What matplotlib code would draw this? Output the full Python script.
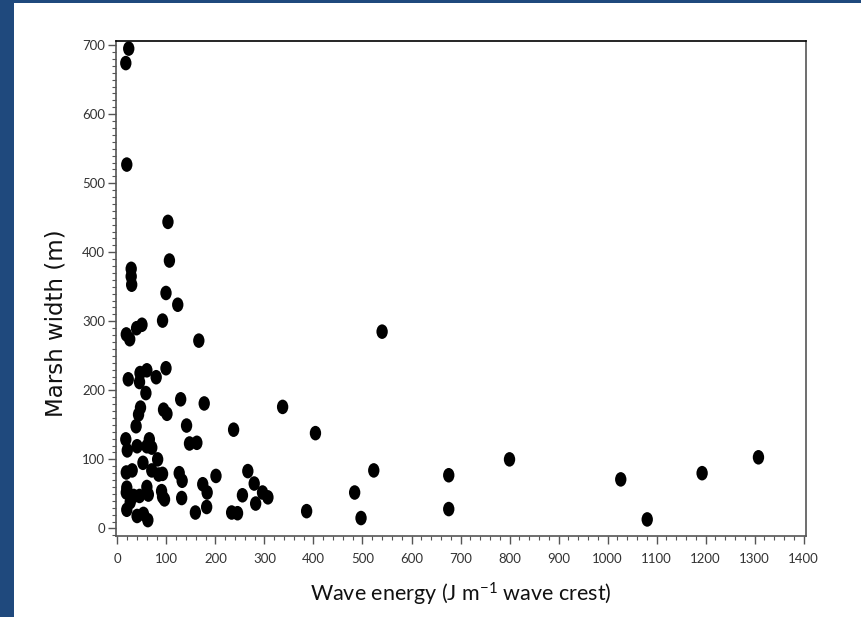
import numpy as np
import matplotlib
matplotlib.use("Agg")
import matplotlib.pyplot as plt
from matplotlib.path import Path
from matplotlib.patches import Rectangle
from matplotlib.ticker import MultipleLocator

# wave energy (J m-1 wave crest) and marsh width (m)
wave_energy = [
    23, 17, 19, 103, 106, 28, 28, 29, 99, 123, 92, 18, 25, 39, 50, 166, 540,
    22, 46, 45, 60, 58, 79, 99, 129, 177, 94, 101, 47, 43, 38, 141, 147, 162,
    237, 337, 404,
    17, 20, 40, 60, 65, 70, 82, 52, 18, 30, 70, 84, 92, 126, 132, 201, 266,
    279, 174, 183, 296, 307, 255, 282, 182, 131, 159, 233, 245, 386, 484, 497,
    523,
    19, 18, 26, 33, 45, 60, 63, 19, 40, 53, 62, 90, 92, 96,
    676, 676, 800, 1027, 1081, 1193, 1308,
]
marsh_width = [
    695, 674, 527, 444, 388, 376, 365, 353, 341, 324, 301, 281, 274, 290, 295, 272, 285,
    216, 225, 212, 229, 196, 219, 232, 187, 181, 172, 166, 175, 165, 148, 149, 123, 124,
    143, 176, 138,
    129, 113, 119, 119, 129, 117, 100, 95, 81, 84, 84, 78, 79, 80, 69, 76, 83,
    65, 64, 52, 52, 45, 48, 36, 31, 44, 23, 23, 22, 25, 52, 15,
    84,
    59, 52, 38, 47, 47, 60, 49, 27, 18, 21, 12, 54, 46, 42,
    77, 28, 100, 71, 13, 80, 103,
]

x_ticks = list(range(0, 1401, 100))
y_ticks = list(range(0, 701, 100))

plt.rcParams["mathtext.fontset"] = "custom"
plt.rcParams["mathtext.rm"] = "Lato"
plt.rcParams["mathtext.it"] = "Lato:italic"

fig = plt.figure(figsize=(8.62, 6.17), dpi=100)
fig.patch.set_facecolor("#1F497D")
# white slide area, blue strip on the left and top
fig.add_artist(Rectangle((14 / 862, 0), 1, 1 - 3 / 617, transform=fig.transFigure,
                         facecolor="white", edgecolor="none", zorder=-1))

ax = fig.add_axes([116 / 862, 1 - 536 / 617, 690 / 862, 495 / 617])

# slightly tall ellipse marker
circ = Path.unit_circle()
ellipse = Path(circ.vertices * np.array([0.78, 1.0]), circ.codes)

ax.scatter(wave_energy, marsh_width, marker=ellipse, s=110, color="black",
           edgecolors="none", zorder=3)

ax.set_xlim(-3, 1405)
ax.set_ylim(-11, 706)
ax.set_xticks(x_ticks)
ax.set_yticks(y_ticks)
ax.xaxis.set_minor_locator(MultipleLocator(20))
ax.yaxis.set_minor_locator(MultipleLocator(10))

tick_font = {"family": "Lato", "size": 9.5}
ax.set_xticklabels([str(v) for v in x_ticks], fontdict=tick_font, color="#333333")
ax.set_yticklabels([str(v) for v in y_ticks], fontdict=tick_font, color="#333333")
ax.tick_params(which="major", length=6, width=1, color="#555555")
ax.tick_params(which="minor", length=3, width=0.8, color="#555555")
ax.tick_params(axis="y", which="major", pad=2)
ax.tick_params(axis="x", which="major", pad=6)

for side in ["left", "bottom", "right"]:
    ax.spines[side].set_color("#555555")
    ax.spines[side].set_linewidth(1.2)
ax.spines["top"].set_color("black")
ax.spines["top"].set_linewidth(1.2)

ax.set_xlabel("Wave energy (J m$\\mathregular{^{-1}}$ wave crest)", family="Lato",
              fontsize=15.5, color="#111111")
ax.xaxis.set_label_coords(0.5, -0.09)
ax.set_ylabel("Marsh width (m)", family="DejaVu Sans", fontsize=16.5, color="#111111")
ax.yaxis.set_label_coords(-0.07, 0.43)

fig.savefig("out.png", dpi=100, facecolor=fig.get_facecolor())
